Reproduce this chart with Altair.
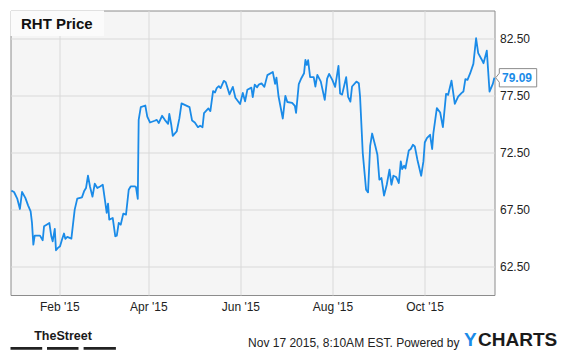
import altair as alt
import pandas as pd

TITLE = "RHT Price"
SOURCE = "TheStreet"
STAMP = "Nov 17 2015, 8:10AM EST. Powered by"
BRAND_Y = "Y"
BRAND_REST = "CHARTS"

x_ticks = [(2015, 2, 1), (2015, 4, 1), (2015, 6, 1), (2015, 8, 1), (2015, 10, 1)]
y_ticks = [62.5, 67.5, 72.5, 77.5, 82.5]

# days since 2015-01-01
days = [-0.8, 1.0, 3.2, 4.9, 6.3, 8.5, 10.3, 12.0, 12.9, 13.8,
        14.7, 18.2, 20.0, 20.9, 22.6, 24.4, 25.7, 26.6, 28.0, 28.8,
        30.1, 31.5, 32.8, 34.1, 35.0, 36.3, 39.0, 40.3, 41.2, 42.9,
        46.0, 47.4, 48.7, 50.0, 51.4, 53.0, 54.5, 56.2, 58.0, 59.8,
        61.5, 62.4, 63.3, 64.1, 66.4, 68.1, 69.1, 70.4, 71.7, 73.4,
        75.2, 77.0, 78.3, 81.0, 81.8, 83.0, 83.6, 85.0, 88.0, 89.3,
        91.1, 94.2, 95.6, 96.9, 99.1, 100.9, 103.1, 103.9, 105.2, 106.2,
        108.8, 110.6, 112.0, 117.3, 119.0, 120.8, 122.9, 124.3, 125.9, 126.9,
        129.8, 131.1, 132.9, 134.2, 135.3, 136.7, 137.9, 140.0, 141.3, 143.8,
        146.0, 147.7, 150.8, 152.6, 154.1, 155.6, 158.3, 159.2, 160.5, 162.1,
        163.2, 165.0, 166.9, 168.9, 172.5, 174.0, 174.9, 176.3, 179.1, 180.8,
        182.1, 185.3, 187.1, 187.9, 189.7, 191.4, 193.2, 194.1, 195.0, 195.9,
        197.2, 199.6, 200.7, 202.0, 204.3, 206.9, 208.5, 209.8, 212.0, 213.8,
        216.0, 217.1, 218.4, 221.1, 222.4, 223.9, 225.0, 227.9, 229.5, 230.3,
        232.1, 234.3, 235.6, 237.0, 238.3, 240.5, 241.8, 243.1, 244.5, 246.2,
        248.0, 249.8, 251.1, 252.4, 254.2, 256.0, 257.3, 258.2, 259.5, 260.4,
        262.6, 263.9, 265.3, 266.6, 268.3, 270.8, 272.3, 273.2, 274.6, 276.7,
        278.1, 278.9, 281.2, 283.4, 285.2, 287.3, 288.7, 290.9, 293.1, 295.3,
        297.5, 298.8, 300.1, 301.5, 303.3, 305.4, 307.2, 308.6, 310.8, 312.1,
        314.3, 316.1, 318.3, 319.3]

prices = [69.17, 69.05, 68.44, 67.56, 69.05, 68.53, 67.88, 67.35, 66.33, 64.43,
          65.22, 65.22, 64.81, 66.04, 66.18, 66.33, 65.16, 64.72, 65.81, 63.93,
          64.14, 64.28, 64.87, 65.40, 64.93, 65.11, 64.96, 66.47, 67.50, 68.47,
          68.58, 69.11, 69.40, 70.48, 69.49, 68.64, 69.78, 69.40, 69.54, 69.69,
          68.09, 67.21, 68.03, 66.62, 66.77, 65.16, 65.22, 66.33, 66.18, 67.15,
          67.06, 69.25, 69.54, 69.54, 69.49, 68.44, 75.39, 76.51, 76.65, 75.68,
          75.16, 75.31, 75.39, 75.11, 75.75, 75.39, 75.04, 75.92, 74.96, 73.99,
          74.37, 75.54, 76.84, 76.51, 75.33, 75.16, 74.75, 74.87, 74.74, 75.98,
          76.39, 76.16, 77.92, 77.79, 78.18, 78.35, 78.18, 78.82, 78.70, 77.63,
          78.29, 77.33, 76.78, 77.76, 77.02, 78.03, 78.22, 77.39, 78.48, 78.25,
          78.49, 78.60, 78.29, 79.32, 79.59, 78.55, 79.10, 77.44, 75.51, 77.50,
          76.96, 76.89, 76.62, 76.01, 78.54, 79.05, 79.49, 80.66, 80.22, 80.63,
          79.14, 79.14, 78.32, 79.34, 78.75, 77.15, 79.02, 79.43, 78.88, 78.29,
          80.13, 77.70, 77.61, 79.14, 77.41, 76.99, 78.32, 78.75, 78.61, 77.46,
          72.47, 69.25, 69.02, 73.11, 74.19, 73.05, 72.32, 70.13, 70.28, 68.73,
          69.69, 71.01, 69.69, 70.48, 70.37, 69.84, 71.74, 71.07, 71.36, 71.12,
          72.70, 72.83, 73.20, 73.05, 71.89, 70.48, 71.74, 73.40, 73.79, 74.08,
          72.83, 74.23, 76.42, 76.04, 74.75, 77.68, 77.59, 78.84, 76.80, 77.44,
          77.74, 77.88, 78.97, 78.90, 79.49, 80.31, 82.56, 81.25, 80.72, 80.37,
          81.47, 77.88, 78.55, 79.09]

df = pd.DataFrame({"day": days, "price": prices})
df["date"] = (pd.Timestamp("2015-01-01") + pd.to_timedelta(df["day"], unit="D")).dt.round("min")
df = df[["date", "price"]]

BLUE = "#1a8be8"
FONT = "Liberation Sans, Arial, sans-serif"
GRID = "#d9d9d9"
BORDER = "#8c8c8c"

x_scale = alt.Scale(
    domain=[alt.DateTime(year=2014, month=12, date=30, hours=15, minutes=50),
            alt.DateTime(year=2015, month=11, date=16, hours=9, minutes=36)],
    nice=False,
)
y_scale = alt.Scale(domain=[60, 85], nice=False, zero=False)

x_axis = alt.Axis(
    values=[alt.DateTime(year=y, month=m, date=d) for y, m, d in x_ticks],
    format="%b '%y", title=None, grid=True, gridColor=GRID, ticks=False,
    domain=False, labelPadding=6, labelFontSize=12, labelColor="#222",
    labelFont=FONT, labelAngle=0, labelFlush=False,
)
y_axis = alt.Axis(
    orient="right", values=y_ticks, format=".2f", title=None, grid=True,
    gridColor=GRID, ticks=False, domain=False, labelPadding=5,
    labelFontSize=12, labelColor="#222", labelFont=FONT,
)

X = alt.X("date:T", scale=x_scale, axis=x_axis)
Y = alt.Y("price:Q", scale=y_scale, axis=y_axis)

line = alt.Chart(df).mark_line(color=BLUE, strokeWidth=1.8, strokeJoin="round").encode(x=X, y=Y)

last = alt.Chart(df).transform_window(
    rn="row_number()", sort=[alt.SortField("date", order="descending")]
).transform_filter("datum.rn == 1")

TAG_PATH = "M-1,0L-0.824,-0.22L-0.824,-0.446L1,-0.446L1,0.446L-0.824,0.446L-0.824,0.22Z"
tag_shape = last.mark_point(
    shape=TAG_PATH, size=1681, filled=True, fill="white", stroke=BORDER,
    strokeWidth=1, opacity=1, fillOpacity=1, strokeOpacity=1,
).encode(x=alt.value(505.7), y=Y)
tag_text = last.mark_text(
    font=FONT, fontSize=12, fontWeight="bold", color=BLUE, align="center", baseline="middle"
).encode(x=alt.value(506.5), y=Y, text=alt.Text("price:Q", format=".2f"))

one = pd.DataFrame({"label": [TITLE]})
title_box = alt.Chart(one).mark_rect(fill="#fbfbfb").encode(
    x=alt.value(0), x2=alt.value(93.5), y=alt.value(0), y2=alt.value(25.5)
)
title_text = alt.Chart(one).mark_text(
    align="left", baseline="alphabetic", font=FONT, fontSize=15, fontWeight="bold", color="#111"
).encode(x=alt.value(10.5), y=alt.value(18.5), text="label:N")

source_text = alt.Chart(one).mark_text(
    align="center", baseline="alphabetic", font=FONT, fontSize=12.5, fontWeight="bold", color="#1a1a1a"
).encode(x=alt.value(52.5), y=alt.value(329.5), text=alt.value(SOURCE))

bars = [
    alt.Chart(one).mark_rect(color="#222").encode(
        x=alt.value(a), x2=alt.value(b), y=alt.value(336.5), y2=alt.value(339.3)
    )
    for a, b in [(0, 31.7), (36.5, 68), (73.1, 105.4)]
]

stamp_text = alt.Chart(one).mark_text(
    align="right", baseline="alphabetic", font=FONT, fontSize=12, color="#222"
).encode(x=alt.value(449), y=alt.value(336), text=alt.value(STAMP))

brand_y = alt.Chart(one).mark_text(
    align="left", baseline="alphabetic", font=FONT, fontSize=19, fontWeight="bold", color=BLUE
).encode(x=alt.value(453.4), y=alt.value(335), text=alt.value(BRAND_Y))
brand_rest = alt.Chart(one).mark_text(
    align="left", baseline="alphabetic", font=FONT, fontSize=19, fontWeight="bold", color="#1a1a1a"
).encode(x=alt.value(467.5), y=alt.value(335), text=alt.value(BRAND_REST))

chart = alt.layer(
    title_box, line, tag_shape, tag_text, title_text, source_text, *bars,
    stamp_text, brand_y, brand_rest,
).properties(
    width=484,
    height=284.5,
    padding={"left": 2.5, "top": 2.5, "right": 72.5, "bottom": 55},
    autosize=alt.AutoSizeParams(type="none"),
    background="white",
).configure_view(fill="#f5f5f5", stroke=BORDER, strokeWidth=1)

chart.save("out.html", embed_options={"renderer": "svg", "actions": False})
